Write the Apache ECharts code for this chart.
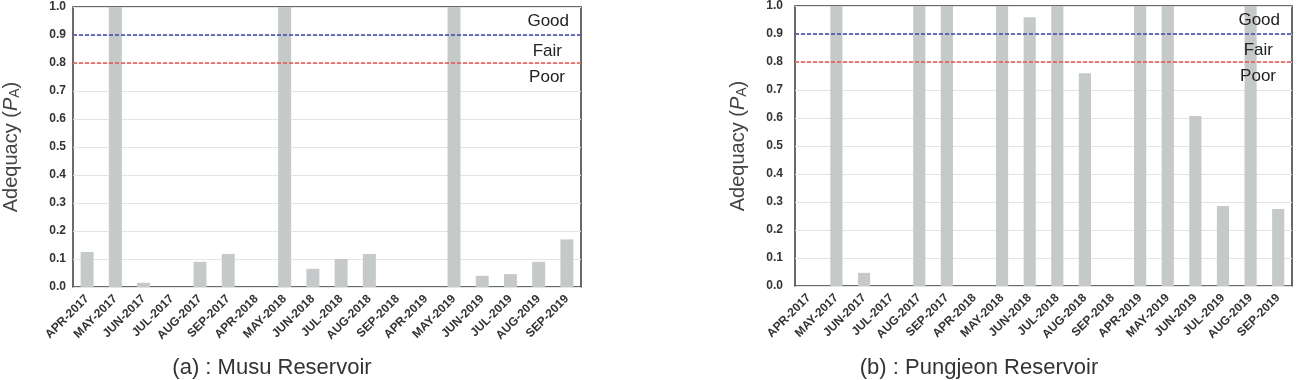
<!DOCTYPE html>
<html>
<head>
<meta charset="utf-8">
<script src="https://cdn.jsdelivr.net/npm/echarts@6/dist/echarts.min.js"></script>
<style>
    html, body { margin: 0; padding: 0; background: #fff; }
    #chart { width: 1303px; height: 380px; }
</style>
</head>
<body>
<div id="chart"></div>
<script>
// 月份（两个水库共用）
const months = ['APR-2017', 'MAY-2017', 'JUN-2017', 'JUL-2017', 'AUG-2017', 'SEP-2017',
    'APR-2018', 'MAY-2018', 'JUN-2018', 'JUL-2018', 'AUG-2018', 'SEP-2018',
    'APR-2019', 'MAY-2019', 'JUN-2019', 'JUL-2019', 'AUG-2019', 'SEP-2019'];
// (a) Musu Reservoir
const musuValues = [0.125, 1.0, 0.015, 0, 0.09, 0.118,
    0, 1.0, 0.065, 0.1, 0.118, 0,
    0, 1.0, 0.04, 0.046, 0.09, 0.17];
// (b) Pungjeon Reservoir
const pungjeonValues = [0, 1.0, 0.047, 0, 1.0, 1.0,
    0, 1.0, 0.96, 1.0, 0.76, 0,
    1.0, 1.0, 0.607, 0.286, 1.0, 0.275];
const titles = ['(a) : Musu Reservoir', '(b) : Pungjeon Reservoir'];
// 等级阈值
const goodLevel = 0.9;
const poorLevel = 0.8;
const classNames = ['Good', 'Fair', 'Poor'];
const classLevels = [0.95, 0.845, 0.75];

const fontFamily = '"Liberation Sans", Arial, sans-serif';
const barColor = '#c6c9c9';
const classLabelGap = [12, 19, 16];

function buildMarkLine() {
    let data = [
        { yAxis: goodLevel, lineStyle: { color: '#3b45a6', type: [4, 2], width: 1.5 } },
        { yAxis: poorLevel, lineStyle: { color: '#e8504c', type: [4, 2], width: 1.5 } }
    ];
    // 等级文字：用透明线承载标签
    for (let i = 0; i < classNames.length; i++) {
        data.push({
            yAxis: classLevels[i],
            lineStyle: { color: 'rgba(0,0,0,0)', width: 0 },
            label: { show: true, formatter: classNames[i], distance: classLabelGap[i] }
        });
    }
    return {
        silent: true,
        symbol: 'none',
        animation: false,
        label: {
            show: false,
            position: 'insideEnd',
            color: '#222',
            fontSize: 17,
            fontFamily: fontFamily
        },
        data: data
    };
}

function yAxisOf(gridIndex, labelMargin, nameGap) {
    return {
        gridIndex: gridIndex,
        type: 'value',
        min: 0,
        max: 1,
        interval: 0.1,
        name: 'Adequacy ({i|P}{s|A})',
        nameLocation: 'middle',
        nameGap: nameGap,
        nameTextStyle: {
            fontSize: 20,
            color: '#444',
            fontFamily: fontFamily,
            rich: {
                i: { fontSize: 20, fontStyle: 'italic', color: '#444', fontFamily: fontFamily },
                s: { fontSize: 14, color: '#444', fontFamily: fontFamily, padding: [8, 0, 0, 0] }
            }
        },
        axisLine: { show: false },
        axisTick: { show: false },
        axisLabel: {
            margin: labelMargin,
            fontSize: 12,
            fontWeight: 'bold',
            color: '#333',
            fontFamily: fontFamily,
            formatter: function(v) { return v.toFixed(1); }
        },
        splitLine: { lineStyle: { color: '#e4e4e4', width: 1 } }
    };
}

function xAxisOf(gridIndex) {
    return {
        gridIndex: gridIndex,
        type: 'category',
        data: months,
        axisLine: { show: false },
        axisTick: { show: false },
        axisLabel: {
            interval: 0,
            rotate: 45,
            margin: 10,
            fontSize: 12,
            fontWeight: 'bold',
            color: '#333',
            fontFamily: fontFamily
        }
    };
}

function titleOf(text, centerX) {
    return {
        text: text,
        left: centerX,
        top: 352,
        textAlign: 'center',
        textStyle: { fontSize: 22, fontWeight: 'normal', color: '#333', fontFamily: fontFamily }
    };
}

var myChart = echarts.init(document.getElementById('chart'));
option = {
    animation: false,
    backgroundColor: '#fff',
    title: [titleOf(titles[0], 267), titleOf(titles[1], 974)],
    grid: [
        { left: 73, top: 7, width: 508, height: 280, show: true, borderColor: '#3a3a3a', borderWidth: 1.5, backgroundColor: 'transparent' },
        { left: 795, top: 6, width: 497, height: 280, show: true, borderColor: '#3a3a3a', borderWidth: 1.5, backgroundColor: 'transparent' }
    ],
    xAxis: [xAxisOf(0), xAxisOf(1)],
    yAxis: [yAxisOf(0, 7, 51), yAxisOf(1, 12, 46)],
    series: [
        {
            type: 'bar',
            xAxisIndex: 0,
            yAxisIndex: 0,
            data: musuValues,
            barWidth: '46%',
            itemStyle: { color: barColor },
            markLine: buildMarkLine()
        },
        {
            type: 'bar',
            xAxisIndex: 1,
            yAxisIndex: 1,
            data: pungjeonValues,
            barWidth: '44%',
            itemStyle: { color: barColor },
            markLine: buildMarkLine()
        }
    ]
};
myChart.setOption(option);
</script>
</body>
</html>
